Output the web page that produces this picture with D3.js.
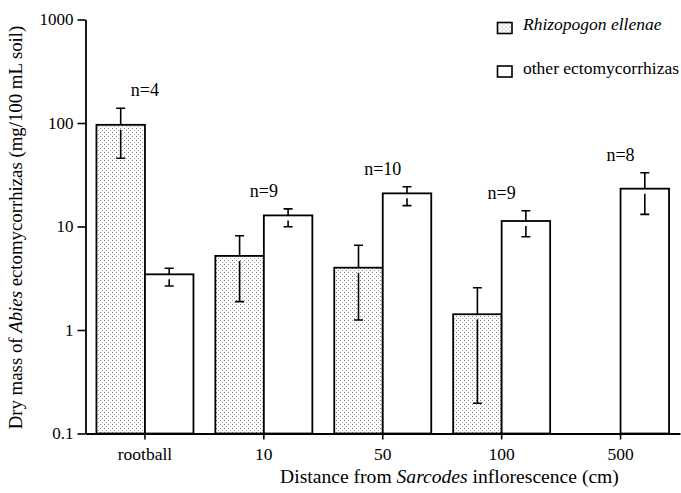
<!DOCTYPE html>
<html>
<head>
<meta charset="utf-8">
<script src="https://cdn.jsdelivr.net/npm/d3@7"></script>
<style>
  body { margin: 0; background: #fff; }
</style>
</head>
<body>
<div id="chart"></div>
<script>
// Data (mg / 100 mL soil, log scale)
const categories = ["rootball", "10", "50", "100", "500"];
const rhizoMean = [96, 5.2, 4.0, 1.42, null];
const rhizoLow = [45.6, 1.88, 1.25, 0.196, null];
const rhizoHigh = [139, 8.15, 6.58, 2.56, null];
const otherMean = [3.45, 12.8, 20.9, 11.3, 23.2];
const otherLow = [2.66, 9.96, 15.9, 7.96, 13.1];
const otherHigh = [3.95, 14.8, 24.2, 14.2, 33.1];
const nLabels = ["n=4", "n=9", "n=10", "n=9", "n=8"];
const yTicks = [0.1, 1, 10, 100, 1000];
const seriesNames = ["Rhizopogon ellenae", "other ectomycorrhizas"];

const width = 681;
const height = 493;
const marginTop = 19.5;
const marginBottom = 59.5;
const marginLeft = 85.5;
const marginRight = 1;
const serif = "'Liberation Serif', 'DejaVu Serif', 'Times New Roman', serif";

const svg = d3.create("svg")
  .attr("width", width)
  .attr("height", height)
  .attr("viewBox", [0, 0, width, height])
  .attr("font-family", serif)
  .style("display", "block");

d3.select("#chart").append(() => svg.node());

// stipple pattern
const defs = svg.append("defs");
const pat = defs.append("pattern")
  .attr("id", "stipple")
  .attr("patternUnits", "userSpaceOnUse")
  .attr("width", 4)
  .attr("height", 4);
pat.append("rect").attr("width", 4).attr("height", 4).attr("fill", "#fff");
pat.append("rect").attr("x", 0).attr("y", 0).attr("width", 1).attr("height", 1).attr("fill", "#808080");
pat.append("rect").attr("x", 2).attr("y", 2).attr("width", 1).attr("height", 1).attr("fill", "#a0a0a0");

const x = d3.scaleBand()
  .domain(categories)
  .range([marginLeft, width - marginRight]);

const sub = d3.scaleBand()
  .domain(["rhizo", "other"])
  .range([-48.5, 48.5]);

const y = d3.scaleLog()
  .domain([0.1, 1000])
  .range([height - marginBottom, marginTop]);

const cx = c => x(c) + x.bandwidth() / 2;

const rows = [];
categories.forEach((c, i) => {
  if (rhizoMean[i] != null)
    rows.push({c, key: "rhizo", mean: rhizoMean[i], low: rhizoLow[i], high: rhizoHigh[i]});
  rows.push({c, key: "other", mean: otherMean[i], low: otherLow[i], high: otherHigh[i]});
});

// bars
svg.append("g")
  .attr("stroke", "#000")
  .attr("stroke-width", 1.8)
  .selectAll()
  .data(rows)
  .join("rect")
  .attr("x", d => cx(d.c) + sub(d.key))
  .attr("y", d => y(d.mean))
  .attr("width", sub.bandwidth())
  .attr("height", d => y(0.1) - y(d.mean))
  .attr("fill", d => d.key === "rhizo" ? "url(#stipple)" : "#fff");

// error bars (lower whisker starts a little below the bar top)
svg.append("g")
  .attr("stroke", "#000")
  .attr("stroke-width", 1.6)
  .attr("fill", "none")
  .selectAll()
  .data(rows)
  .join("path")
  .attr("d", d => {
    const m = cx(d.c) + sub(d.key) + sub.bandwidth() / 2;
    const yh = y(d.high), ym = y(d.mean), yl = y(d.low);
    return `M${m - 4.5},${yh}H${m + 4.5}M${m},${yh}V${ym}` +
      `M${m},${ym + 5}V${yl}M${m - 4.5},${yl}H${m + 4.5}`;
  });

// n labels
svg.append("g")
  .attr("font-size", 18)
  .attr("text-anchor", "middle")
  .selectAll()
  .data(categories)
  .join("text")
  .attr("x", c => cx(c))
  .attr("y", (c, i) => y(Math.max(otherHigh[i], rhizoHigh[i] || 0)) - 18)
  .attr("dy", "0.35em")
  .text((c, i) => nLabels[i]);

// y axis
svg.append("g")
  .attr("transform", `translate(${marginLeft},0)`)
  .call(d3.axisLeft(y).tickValues(yTicks).tickFormat(d => String(d)).tickSize(8).tickPadding(4).tickSizeOuter(0))
  .call(g => g.attr("font-family", serif).attr("font-size", 17))
  .call(g => g.select(".domain").attr("stroke-width", 1.8))
  .call(g => g.selectAll(".tick line").attr("stroke-width", 1.6))
  .call(g => g.selectAll("text").attr("fill", "#000"));

// x axis
svg.append("g")
  .attr("transform", `translate(0,${y(0.1)})`)
  .call(d3.axisBottom(x).tickSize(6).tickPadding(8.5).tickSizeOuter(0))
  .call(g => g.attr("font-family", serif).attr("font-size", 17.5))
  .call(g => g.select(".domain").attr("stroke-width", 1.8))
  .call(g => g.selectAll(".tick line").attr("stroke-width", 1.6))
  .call(g => g.selectAll("text").attr("fill", "#000"));

// axis titles
const xt = svg.append("text")
  .attr("x", 449.5)
  .attr("y", 483)
  .attr("text-anchor", "middle")
  .attr("font-size", 19.6);
xt.append("tspan").text("Distance from ");
xt.append("tspan").attr("font-style", "italic").text("Sarcodes");
xt.append("tspan").text(" inflorescence (cm)");

const yt = svg.append("text")
  .attr("transform", "translate(15,227.5) rotate(-90)")
  .attr("dy", "0.35em")
  .attr("text-anchor", "middle")
  .attr("font-size", 18.8);
yt.append("tspan").text("Dry mass of ");
yt.append("tspan").attr("font-style", "italic").text("Abies");
yt.append("tspan").text(" ectomycorrhizas (mg/100 mL soil)");

// legend
const legend = svg.append("g")
  .selectAll()
  .data(seriesNames)
  .join("g")
  .attr("transform", (d, i) => `translate(497.5,${22.5 + i * 43.5})`);
legend.append("rect")
  .attr("width", 14.5)
  .attr("height", 11)
  .attr("stroke", "#000")
  .attr("stroke-width", 1.6)
  .attr("fill", (d, i) => i === 0 ? "url(#stipple)" : "#fff");
legend.append("text")
  .attr("x", 25.5)
  .attr("y", 7.5)
  .attr("font-size", 17.5)
  .attr("font-style", (d, i) => i === 0 ? "italic" : "normal")
  .text(d => d);
</script>
</body>
</html>
